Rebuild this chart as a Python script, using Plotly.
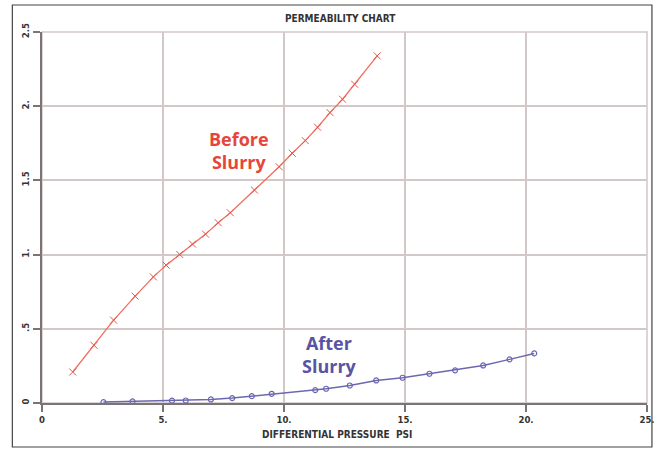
import plotly.graph_objects as go

before_x = [1.27, 2.15, 2.96, 3.85, 4.60, 5.13, 5.69, 6.22, 6.76, 7.28, 7.78, 8.78, 9.80, 10.34, 10.88, 11.39, 11.90, 12.42, 12.92, 13.85]
before_y = [0.209, 0.389, 0.558, 0.720, 0.850, 0.929, 1.001, 1.071, 1.138, 1.215, 1.282, 1.435, 1.592, 1.683, 1.768, 1.858, 1.957, 2.047, 2.148, 2.339]

after_x = [2.54, 3.74, 5.37, 5.94, 6.98, 7.86, 8.67, 9.49, 11.29, 11.74, 12.72, 13.81, 14.90, 16.01, 17.07, 18.23, 19.32, 20.34]
after_y = [0.006, 0.011, 0.016, 0.017, 0.024, 0.033, 0.046, 0.062, 0.087, 0.096, 0.118, 0.152, 0.170, 0.197, 0.220, 0.253, 0.294, 0.334]

x_ticks = [0, 5, 10, 15, 20, 25]
x_tick_labels = ["0", "5.", "10.", "15.", "20.", "25."]
y_ticks = [0, 0.5, 1, 1.5, 2, 2.5]
y_tick_labels = ["0", ".5", "1.", "1.5", "2.", "2.5"]

FONT = "DejaVu Sans Condensed"
AXIS_COLOR = "#7a7474"
GRID_COLOR = "#d2c8c8"

fig = go.Figure()
fig.add_trace(go.Scatter(
    x=before_x, y=before_y, mode="lines+markers",
    line=dict(color="#f0705f", width=1.3),
    marker=dict(symbol="x-thin", size=7, line=dict(color="#e8564a", width=1)),
    name="Before Slurry", showlegend=False))
fig.add_trace(go.Scatter(
    x=after_x, y=after_y, mode="lines+markers",
    line=dict(color="#6b68b0", width=1.5),
    marker=dict(symbol="circle-open", size=5, line=dict(color="#6b68b0", width=1.2)),
    name="After Slurry", showlegend=False))

fig.update_layout(
    width=667, height=451,
    margin=dict(l=42, r=13, t=32, b=48),
    paper_bgcolor="white", plot_bgcolor="white",
    font=dict(family=FONT, color="#3a3a3a"),
    title=dict(text="<b>PERMEABILITY CHART</b>", x=0.51, xanchor="center",
               y=1 - 18 / 451, yanchor="middle", yref="container",
               font=dict(size=10, family=FONT, color="#333")),
)
fig.update_xaxes(
    range=[0, 25], tickvals=x_ticks, ticktext=["<b>%s</b>" % t for t in x_tick_labels],
    showgrid=True, gridcolor=GRID_COLOR, gridwidth=1.5,
    zeroline=False, showline=True, linecolor=AXIS_COLOR, linewidth=2,
    ticks="outside", ticklen=7, tickwidth=2, tickcolor=AXIS_COLOR,
    tickfont=dict(size=9.5, family=FONT, color="#333"),
)
fig.update_yaxes(
    range=[0, 2.5], tickvals=y_ticks, ticktext=["<b>%s</b>" % t for t in y_tick_labels],
    showgrid=True, gridcolor=GRID_COLOR, gridwidth=1.5,
    zeroline=False, showline=True, linecolor=AXIS_COLOR, linewidth=2,
    ticks="outside", ticklen=7, tickwidth=2, tickcolor=AXIS_COLOR,
    tickangle=-90, tickfont=dict(size=9.5, family=FONT, color="#333"),
)

# grid edge at top/right
fig.add_shape(type="rect", xref="x domain", yref="y domain", x0=0, x1=1, y0=0, y1=1,
              line=dict(color=GRID_COLOR, width=1.5), layer="below")
# outer frame
fig.add_shape(type="rect", xref="paper", yref="paper",
              x0=(12 - 42) / 612, x1=(659 - 42) / 612,
              y0=(403 - 447) / 371, y1=(403 - 5) / 371,
              line=dict(color="#444", width=1.2))

fig.add_annotation(text="<b>DIFFERENTIAL PRESSURE  PSI</b>", xref="paper", yref="paper",
                   x=(340 - 42) / 612, y=(403 - 434) / 371, showarrow=False,
                   font=dict(size=10, family=FONT, color="#333"), yanchor="middle")
fig.add_annotation(text="<b>Before<br>Slurry</b>", x=8.15, y=1.70, showarrow=False,
                   font=dict(size=18, family="Open Sans", color="#e8453a"))
fig.add_annotation(text="<b>After<br>Slurry</b>", x=11.9, y=0.33, showarrow=False,
                   font=dict(size=18, family="Open Sans", color="#5a53a3"))

fig.write_html("out.html", config={"displayModeBar": False},
               post_script="document.body.style.margin='0';document.body.style.overflow='hidden';")
